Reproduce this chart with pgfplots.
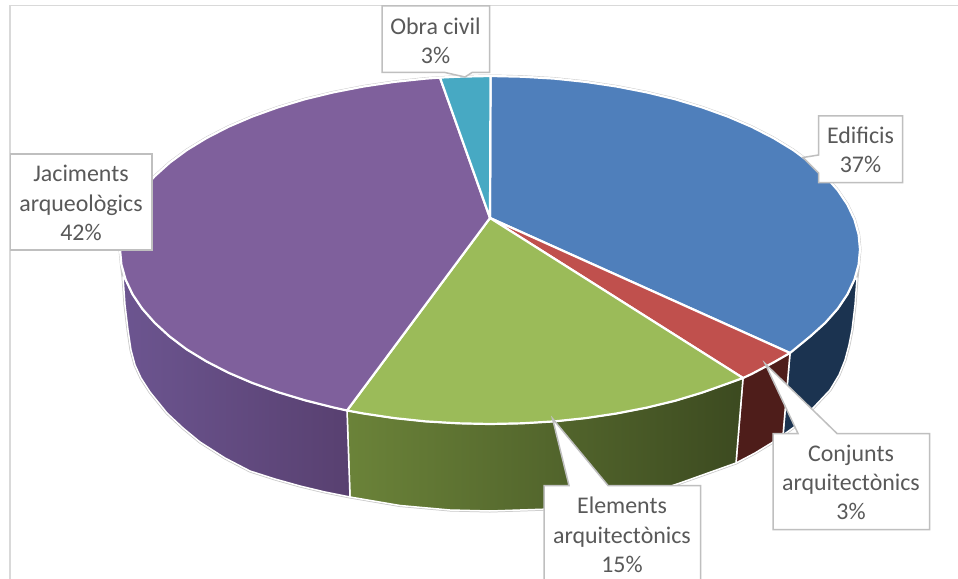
\documentclass[border=0pt]{standalone}
\usepackage{pgfplots}
\pgfplotsset{compat=1.18}
\usepackage{fontspec}
\setmainfont{Carlito}
\definecolor{cBlue}{HTML}{4F7FBB}
\definecolor{cRed}{HTML}{C0504D}
\definecolor{cGreen}{HTML}{9BBB59}
\definecolor{cPurple}{HTML}{7F609C}
\definecolor{cCyan}{HTML}{47A9C3}
\definecolor{sBlue}{HTML}{1B3350}
\definecolor{sRed}{HTML}{4E1D1A}
\definecolor{gL}{HTML}{6B8339}
\definecolor{gM}{HTML}{485A2A}
\definecolor{gR}{HTML}{3C4A20}
\definecolor{pL}{HTML}{6C5590}
\definecolor{pR}{HTML}{584070}
\definecolor{frameC}{HTML}{D9D9D9}
\definecolor{edgeC}{HTML}{C8C8C8}
\definecolor{boxC}{HTML}{BFBFBF}
\definecolor{txtC}{HTML}{595959}
\tikzset{
  slicetop/.style={draw=white,line width=2.2bp,line join=round},
  sliceside/.style={draw=white,line width=1.5bp,line join=round},
  calloutbox/.style={fill=white,draw=boxC,line width=1.5bp,line join=miter},
  lab/.style={text=txtC,align=center,inner sep=0pt,font=\fontsize{24}{29.4}\selectfont}
}
\begin{document}
\begin{tikzpicture}
\begin{axis}[
  scale only axis,width=958bp,height=579bp,
  xmin=0,xmax=958,ymin=0,ymax=579,y dir=reverse,
  hide axis,clip=true]
% background and frame
\addplot[fill=white,draw=none] coordinates {(0,0)(958,0)(958,579)(0,579)} --cycle;
\addplot[draw=frameC,line width=1.8bp] coordinates {(10,585)(10,5.5)(965,5.5)};
% silhouette
\addplot[fill=white,draw=edgeC,line width=3bp,line join=round] coordinates {
(120,249.5)(121.4,234.4)(125.6,219.4)(132.6,204.6)(142.3,190.2)(154.7,176.2)(169.6,162.75)(186.9,150)(206.6,138)(228.4,126.8)(252.2,116.6)(277.8,107.4)(305,99.2)(333.6,92.3)(363.5,86.5)(394.2,81.9)(425.7,78.6)(457.8,76.7)(490,76)
(522.2,76.7)(554.3,78.6)(585.8,81.9)(616.5,86.5)(646.4,92.3)(675,99.2)(702.2,107.4)(727.8,116.6)(751.6,126.8)(773.4,138)(793.1,150)(810.4,162.75)(825.3,176.2)(837.7,190.2)(847.4,204.6)(854.4,219.4)(858.6,234.4)(860,249.5)(858.6,264.6)
(857,278)(855,305)(852,330)(849,345)(845,360)(839,375)(830,390)(813,408)(797,425)(773,442)(755,453)(736,463)(680,483)(650,493)(600,503)(550,509)(490,511)(450,510)(400,505.5)(350,497)(325,492)(300,486)(275,479)(250,471)(225,458)(200,442)(183,428)(167,413)(150,392)(141,378)(135,365)(131,350)(128,330)(125,305)(123,277)(121.4,264.6)} --cycle;
% side faces
\addplot[sliceside,fill=sBlue] coordinates {(857,278)(855,305)(852,330)(849,345)(845,360)(839,375)(830,390)(813,408)(797,425)(783,435)(790,353)(793.1,349)(810.4,336.25)(825.3,322.8)(837.7,308.8)(847.4,294.4)(854.4,279.6)} --cycle;
\addplot[sliceside,fill=sRed] coordinates {(790,353)(783,435)(773,442)(755,453)(736,463)(743,378)} --cycle;
\addplot[sliceside,left color=gL,middle color=gM,right color=gR] coordinates {(743,378)(736,463)(680,483)(650,493)(600,503)(550,509)(490,511)(450,510)(400,505.5)(350,497)(347,410.5)(363.5,413.5)(394.2,418.1)(425.7,421.4)(457.8,423.3)(490,424)(522.2,423.3)(554.3,421.4)(585.8,418.1)(616.5,413.5)(646.4,407.7)(675,400.8)(702.2,392.6)(727.8,383.5)} --cycle;
\addplot[sliceside,left color=pL,right color=pR] coordinates {(123,277)(125,305)(128,330)(131,350)(135,365)(141,378)(150,392)(167,413)(183,428)(200,442)(225,458)(250,471)(275,479)(300,486)(325,492)(350,497)(347,410.5)(333.6,407.5)(305,400.3)(277.8,392.1)(252.2,382.9)(228.4,372.7)(206.6,361.5)(186.9,349.5)(169.6,336.5)(154.7,322.8)(142.3,308.8)(132.6,294.4)(125.6,279.6)} --cycle;
% top faces
\addplot[slicetop,fill=cBlue] coordinates {(490,218)(490.5,76)(522.2,76.7)(554.3,78.6)(585.8,81.9)(616.5,86.5)(646.4,92.3)(675,99.2)(702.2,107.4)(727.8,116.6)(751.6,126.8)(773.4,138)(793.1,150)(810.4,162.75)(825.3,176.2)(837.7,190.2)(847.4,204.6)(854.4,219.4)(858.6,234.4)(860,249.5)(858.6,264.6)(854.4,279.6)(847.4,294.4)(837.7,308.8)(825.3,322.8)(810.4,336.25)(790,353)} --cycle;
\addplot[slicetop,fill=cRed] coordinates {(490,218)(790,353)(773.4,362.5)(751.6,374)(743,378)} --cycle;
\addplot[slicetop,fill=cGreen] coordinates {(490,218)(743,378)(727.8,383.5)(702.2,392.6)(675,400.8)(646.4,407.7)(616.5,413.5)(585.8,418.1)(554.3,421.4)(522.2,423.3)(490,424)(457.8,423.3)(425.7,421.4)(394.2,418.1)(363.5,413.5)(347,410.5)} --cycle;
\addplot[slicetop,fill=cPurple] coordinates {(490,218)(347,410.5)(333.6,407.5)(305,400.3)(277.8,392.1)(252.2,382.9)(228.4,372.7)(206.6,361.5)(186.9,349.5)(169.6,336.5)(154.7,322.8)(142.3,308.8)(132.6,294.4)(125.6,279.6)(121.4,264.6)(120,249.5)(121.4,234.4)(125.6,219.4)(132.6,204.6)(142.3,190.2)(154.7,176.2)(169.6,162.75)(186.9,150)(206.6,138)(228.4,126.8)(252.2,116.6)(277.8,107.4)(305,99.2)(333.6,92.3)(363.5,86.5)(394.2,81.9)(425.7,78.6)(440,77.6)} --cycle;
\addplot[slicetop,fill=cCyan] coordinates {(490,218)(440,77.6)(457.8,76.7)(490.5,76)} --cycle;
% callouts
\addplot[calloutbox] coordinates {(382,6)(489.5,6)(489.5,72.5)(472,72.5)(465,77)(445,72.5)(382,72.5)} --cycle;
\addplot[calloutbox] coordinates {(10.5,154)(152,154)(152,250)(10.5,250)} --cycle;
\addplot[calloutbox] coordinates {(818.5,116)(902.5,116)(902.5,182.5)(818.5,182.5)(818.5,173)(803,157.5)(818.5,155)} --cycle;
\addplot[calloutbox] coordinates {(773,433.5)(798,433.5)(765,363.5)(837,433.5)(929.5,433.5)(929.5,529.5)(773,529.5)} --cycle;
\addplot[calloutbox] coordinates {(544,485.5)(569,485.5)(552.5,418.5)(608,485.5)(700.5,485.5)(700.5,590)(544,590)} --cycle;
% labels
\node[lab] at (axis cs:435.5,40.5) {Obra civil\\3\%};
\node[lab] at (axis cs:81,203) {Jaciments\\arqueològics\\42\%};
\node[lab] at (axis cs:860.5,150) {Edificis\\37\%};
\node[lab] at (axis cs:851,482.5) {Conjunts\\arquitectònics\\3\%};
\node[lab] at (axis cs:622,535) {Elements\\arquitectònics\\15\%};
\end{axis}
\end{tikzpicture}
\end{document}
